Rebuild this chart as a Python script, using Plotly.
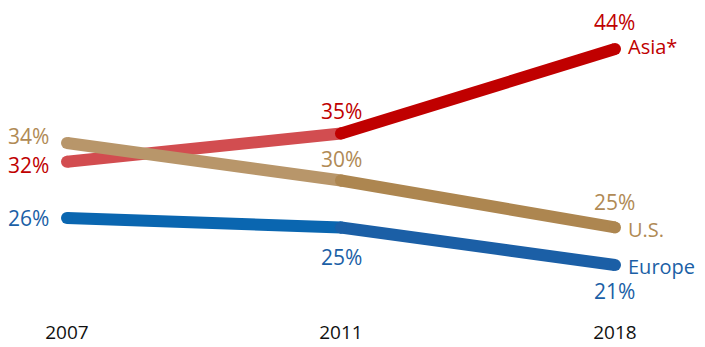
import plotly.graph_objects as go

years = ["2007", "2011", "2018"]
regions = ["Asia*", "U.S.", "Europe"]
asia = [32, 35, 44]
us = [34, 30, 25]
europe = [26, 25, 21]

series = [
    ("Asia*", asia, "#d24d50", "#c00000"),
    ("U.S.", us, "#b8966a", "#ad8650"),
    ("Europe", europe, "#0a66b0", "#1b5fa6"),
]

FONT = "Open Sans"
FS = 21
xs = list(range(len(years)))

fig = go.Figure()
for name, vals, c1, c2 in series:
    fig.add_trace(go.Scatter(x=xs[:2], y=vals[:2], mode="lines+markers",
                             line=dict(color=c1, width=12),
                             marker=dict(color=[c1, c1], size=12),
                             hoverinfo="skip", showlegend=False))
for name, vals, c1, c2 in series:
    fig.add_trace(go.Scatter(x=xs[1:], y=vals[1:], mode="lines+markers",
                             line=dict(color=c2, width=12),
                             marker=dict(color=[c2, c2], size=12),
                             hoverinfo="skip", showlegend=False))

anns = []
def lab(text, x, y, color, xs_, ys_, xanchor="center", size=FS):
    anns.append(dict(text=text, x=x, y=y, xref="x", yref="y", showarrow=False,
                     xshift=xs_, yshift=ys_, xanchor=xanchor, yanchor="middle",
                     font=dict(family=FONT, size=size, color=color)))

red, tan, blue = "#c00000", "#b08a55", "#1b5fa6"
# 2007
lab(f"{asia[0]}%", 0, asia[0], red, -38, -3)
lab(f"{us[0]}%", 0, us[0], tan, -38, 7)
lab(f"{europe[0]}%", 0, europe[0], blue, -38, 0)
# 2011
lab(f"{asia[1]}%", 1, asia[1], red, 1, 23)
lab(f"{us[1]}%", 1, us[1], tan, 1, 22)
lab(f"{europe[1]}%", 1, europe[1], blue, 1, -30)
# 2018
lab(f"{asia[2]}%", 2, asia[2], red, 0, 27)
lab(f"{us[2]}%", 2, us[2], tan, 0, 25)
lab(f"{europe[2]}%", 2, europe[2], blue, 0, -26)
lab(regions[0], 2, asia[2], red, 11, 3, "left", 20)
lab(regions[1], 2, us[2], tan, 11, -2, "left", 20)
lab(regions[2], 2, europe[2], blue, 11, -1, "left", 20)

fig.update_layout(
    width=697, height=339,
    margin=dict(l=0, r=0, t=0, b=28),
    paper_bgcolor="white", plot_bgcolor="white",
    annotations=anns,
    xaxis=dict(range=[-0.2153, 2.3285], tickvals=xs, ticktext=years,
               showgrid=False, zeroline=False, showline=False,
               tickfont=dict(family=FONT, size=19, color="#111111"), ticks=""),
    yaxis=dict(range=[15.25, 48.37], visible=False, showgrid=False, zeroline=False),
)
fig.write_html("out.html")
